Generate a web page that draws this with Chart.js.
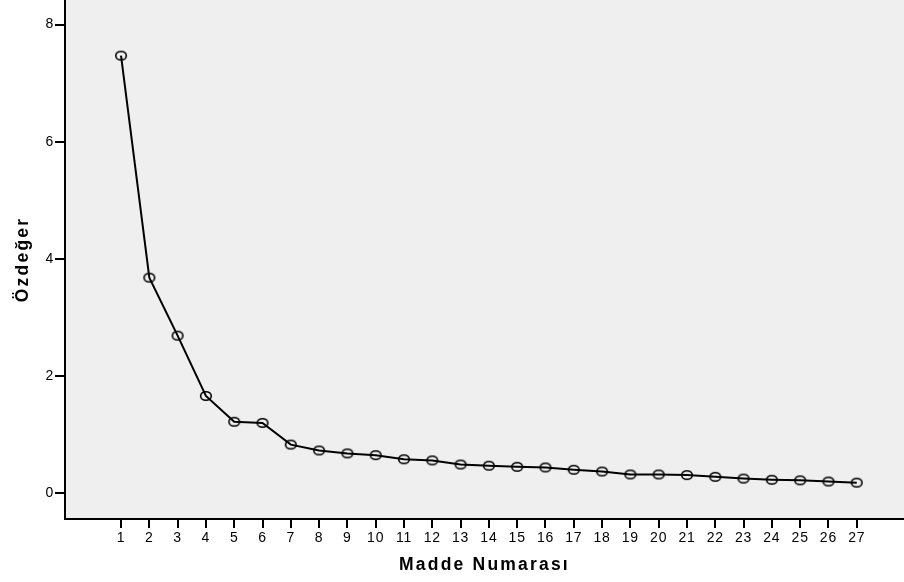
<!DOCTYPE html>
<html>
<head>
<meta charset="utf-8">
<script src="https://cdn.jsdelivr.net/npm/chart.js@4"></script>
<style>
  html, body { margin: 0; padding: 0; background: #ffffff; }
  #wrap { width: 904px; height: 582px; position: relative; }
</style>
</head>
<body>
<div id="wrap"><canvas id="c" width="904" height="582"></canvas></div>
<script>
// ---- data ----
const itemNumbers = [1,2,3,4,5,6,7,8,9,10,11,12,13,14,15,16,17,18,19,20,21,22,23,24,25,26,27];
const eigenvalues = [7.47,3.68,2.69,1.66,1.22,1.20,0.83,0.73,0.68,0.65,0.58,0.56,0.49,0.47,0.45,0.44,0.40,0.37,0.32,0.32,0.31,0.28,0.25,0.23,0.22,0.20,0.18];
const yTickValues = [0,2,4,6,8];
const xTitle = 'Madde Numarası';
const yTitle = 'Özdeğer';

// ellipse marker
const marker = document.createElement('canvas');
marker.width = 14; marker.height = 12;
(function(){
  const m = marker.getContext('2d');
  m.beginPath();
  m.ellipse(7, 6, 5.3, 4.3, 0, 0, Math.PI*2);
  m.lineWidth = 1.6;
  m.strokeStyle = '#000';
  m.stroke();
})();

const plotBg = {
  id: 'plotBg',
  beforeDraw(chart) {
    const {ctx, chartArea: a} = chart;
    ctx.save();
    ctx.fillStyle = '#efefef';
    ctx.fillRect(a.left, a.top, a.right - a.left, a.bottom - a.top);
    ctx.restore();
    Object.values(chart.scales).forEach(s => {
      if (s._spWrapped) return;
      s._spWrapped = true;
      const dt = s.drawTitle.bind(s);
      const dl = s.drawLabels.bind(s);
      s.drawTitle = function() { const c = this.ctx; c.save(); c.letterSpacing = '2.2px'; dt(); c.restore(); };
      s.drawLabels = function(ca) { const c = this.ctx; c.save(); c.letterSpacing = '0.8px'; dl(ca); c.restore(); };
    });
  }
};

const tickFont = { family: '"Liberation Sans", Arial, sans-serif', size: 14 };
const titleFont = { family: '"Liberation Sans", Arial, sans-serif', size: 17.5, weight: 'bold' };

new Chart(document.getElementById('c'), {
  type: 'line',
  data: {
    datasets: [{
      data: itemNumbers.map((n, i) => ({ x: n, y: eigenvalues[i] })),
      borderColor: '#000',
      borderWidth: 2,
      pointStyle: marker,
      pointRadius: 5,
      tension: 0,
      fill: false
    }]
  },
  options: {
    responsive: false,
    animation: false,
    devicePixelRatio: 1,
    layout: { padding: 0, autoPadding: false },
    plugins: { legend: { display: false }, tooltip: { enabled: false } },
    scales: {
      x: {
        type: 'linear',
        min: -0.98, max: 28.67,
        afterBuildTicks(s) { s.ticks = itemNumbers.map(v => ({ value: v })); },
        afterFit(s) { s.height = 63; s.paddingLeft = 0; s.paddingRight = 0; },
        ticks: { color: '#000', font: tickFont, padding: 2, maxRotation: 0, autoSkip: false,
                 callback: v => String(v) },
        grid: { drawOnChartArea: false, drawTicks: true, tickLength: 9, color: '#000', lineWidth: 2 },
        border: { display: true, color: '#000', width: 2 },
        title: { display: true, text: xTitle, color: '#000', font: titleFont, padding: { top: 0, bottom: 6.5 } }
      },
      y: {
        type: 'linear',
        min: -0.44, max: 8.42,
        afterBuildTicks(s) { s.ticks = yTickValues.map(v => ({ value: v })); },
        afterFit(s) { s.width = 65; s.paddingTop = 0; s.paddingBottom = 0; },
        ticks: { color: '#000', font: tickFont, padding: 1, callback: v => String(v) },
        grid: { drawOnChartArea: false, drawTicks: true, tickLength: 10, color: '#000', lineWidth: 2 },
        border: { display: true, color: '#000', width: 2 },
        title: { display: true, text: yTitle, color: '#000', font: titleFont, padding: { top: 12.5, bottom: 0 } }
      }
    }
  },
  plugins: [plotBg]
});
</script>
</body>
</html>
